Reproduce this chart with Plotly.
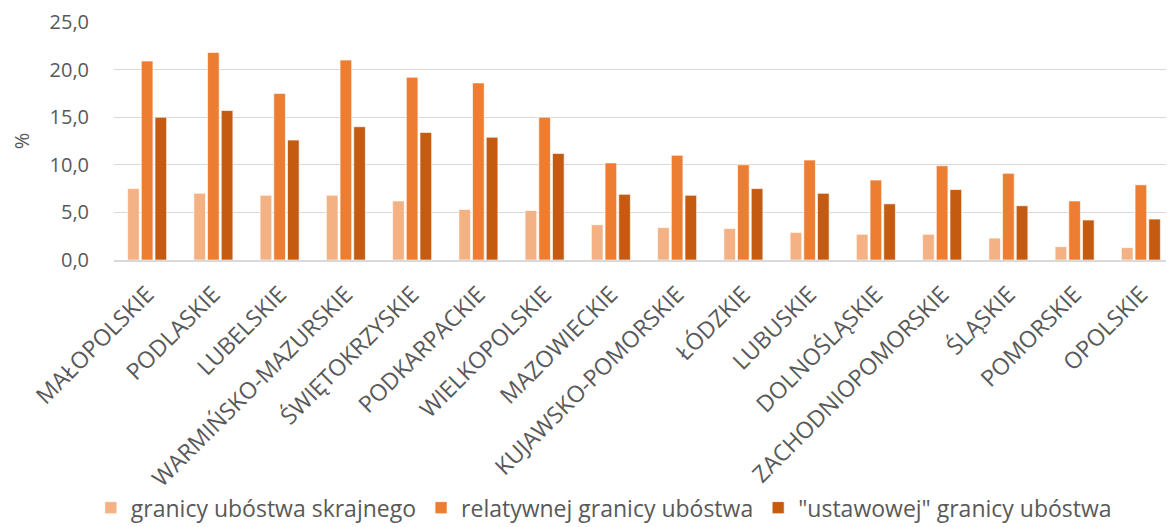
import plotly.graph_objects as go

categories = ["MAŁOPOLSKIE", "PODLASKIE", "LUBELSKIE", "WARMIŃSKO-MAZURSKIE", "ŚWIĘTOKRZYSKIE",
              "PODKARPACKIE", "WIELKOPOLSKIE", "MAZOWIECKIE", "KUJAWSKO-POMORSKIE", "ŁÓDZKIE",
              "LUBUSKIE", "DOLNOŚLĄSKIE", "ZACHODNIOPOMORSKIE", "ŚLĄSKIE", "POMORSKIE", "OPOLSKIE"]
skrajne = [7.5, 7.0, 6.8, 6.8, 6.2, 5.3, 5.2, 3.7, 3.4, 3.3, 2.9, 2.7, 2.7, 2.3, 1.4, 1.3]
relatywne = [20.9, 21.8, 17.5, 21.0, 19.2, 18.6, 15.0, 10.2, 11.0, 10.0, 10.5, 8.4, 9.9, 9.1, 6.2, 7.9]
ustawowe = [15.0, 15.7, 12.6, 14.0, 13.4, 12.9, 11.2, 6.9, 6.8, 7.5, 7.0, 5.9, 7.4, 5.7, 4.2, 4.3]
series_names = ["granicy ubóstwa skrajnego", "relatywnej granicy ubóstwa", "\"ustawowej\" granicy ubóstwa"]
colors = ["#F4B183", "#ED7D31", "#C55A11"]
y_ticks = [0, 5, 10, 15, 20, 25]

fig = go.Figure()
for name, vals, col in zip(series_names, [skrajne, relatywne, ustawowe], colors):
    fig.add_trace(go.Bar(x=categories, y=vals, name=name,
                         marker=dict(color=col, line=dict(color="rgba(255,255,255,0.8)", width=0.8))))

font_family = "'Open Sans', sans-serif"
fig.update_layout(
    width=1166, height=527,
    barmode="group", bargap=0.38, bargroupgap=0.15,
    separators=", ",
    plot_bgcolor="white", paper_bgcolor="white",
    margin=dict(l=106, r=0, t=14, b=275),
    font=dict(family=font_family, color="#595959", size=20),
    legend=dict(orientation="h", x=0.511, xref="container", xanchor="center",
                y=0.011, yanchor="bottom", yref="container",
                bgcolor="rgba(0,0,0,0)",
                font=dict(size=23, color="#595959"),
                itemwidth=30, tracegroupgap=0),
    xaxis=dict(tickangle=-45, tickfont=dict(size=23, color="#595959"),
               showline=True, linecolor="#d9d9d9", linewidth=1.5, ticks="",
               ticklabelstandoff=10, automargin=False),
    yaxis=dict(range=[0, 25], tickvals=y_ticks, tickformat=".1f",
               showgrid=True, gridcolor="#d9d9d9", gridwidth=1.3,
               zeroline=False, tickfont=dict(size=20, color="#595959"),
               ticklabelstandoff=24, automargin=False,
               title=dict(text="%", font=dict(size=20, color="#595959"), standoff=22)),
)
fig.write_html("out.html")
